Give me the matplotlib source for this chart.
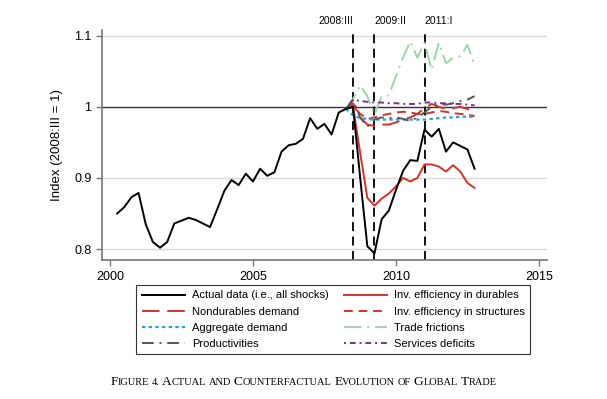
import numpy as np
import matplotlib
matplotlib.use("Agg")
import matplotlib.pyplot as plt
from matplotlib.offsetbox import TextArea, HPacker, AnchoredOffsetbox

plt.rcParams['font.family'] = ['Liberation Sans', 'DejaVu Sans']

# quarterly dates, 2000:II to 2012:IV
quarters = np.arange(2000.25, 2012.76, 0.25)
cf_quarters = quarters[32:]  # counterfactuals from 2008:II

actual = [0.850, 0.859, 0.873, 0.879, 0.835, 0.810, 0.802, 0.810, 0.836, 0.840,
          0.844, 0.841, 0.836, 0.831, 0.856, 0.882, 0.897, 0.890, 0.906, 0.895,
          0.913, 0.903, 0.908, 0.937, 0.946, 0.948, 0.955, 0.984, 0.969, 0.976,
          0.961, 0.992, 0.997, 1.000, 0.900, 0.804, 0.794, 0.842, 0.854, 0.883,
          0.910, 0.925, 0.924, 0.968, 0.958, 0.969, 0.937, 0.950, 0.945, 0.940,
          0.913]

durables = [0.997, 1.000, 0.935, 0.872, 0.861, 0.871, 0.878, 0.888, 0.900, 0.895,
            0.900, 0.919, 0.919, 0.916, 0.909, 0.918, 0.909, 0.893, 0.886]
nondurables = [0.997, 1.005, 0.985, 0.975, 0.973, 0.975, 0.975, 0.978, 0.982, 0.985,
               0.990, 0.998, 1.004, 1.000, 0.997, 0.998, 1.000, 0.997, 0.992]
structures = [0.997, 1.002, 0.990, 0.983, 0.985, 0.988, 0.990, 0.992, 0.993, 0.992,
              0.990, 0.990, 0.992, 0.994, 0.993, 0.991, 0.990, 0.989, 0.987]
aggregate = [0.997, 0.988, 0.984, 0.983, 0.982, 0.982, 0.982, 0.982, 0.982, 0.982,
             0.982, 0.982, 0.983, 0.984, 0.985, 0.985, 0.986, 0.986, 0.986]
frictions = [0.997, 1.011, 1.030, 1.015, 0.989, 1.015, 1.016, 1.043, 1.069, 1.092,
             1.069, 1.090, 1.052, 1.090, 1.061, 1.069, 1.071, 1.087, 1.059]
productivities = [0.997, 1.010, 0.985, 0.972, 0.982, 0.985, 0.984, 0.985, 0.983, 0.980,
                  0.985, 0.992, 1.000, 1.004, 1.003, 1.005, 1.008, 1.010, 1.015]
services = [0.997, 1.010, 1.008, 1.007, 1.006, 1.006, 1.005, 1.005, 1.004, 1.004,
            1.004, 1.006, 1.006, 1.005, 1.005, 1.004, 1.004, 1.003, 1.002]

events = [2008.5, 2009.25, 2011.0]
event_labels = ['2008:III', '2009:II', '2011:I']
event_align = ['right', 'left', 'left']

red = '#d7302c'

fig = plt.figure(figsize=(6.07, 3.99), dpi=100)
ax = fig.add_axes([0.168, 0.348, 0.733, 0.577])

# grid lines and the base line
for yv in [0.8, 0.9, 1.1]:
    ax.axhline(yv, color='#d9d9d9', lw=1.0, zorder=0)
ax.axhline(1.0, color='#333333', lw=1.0, zorder=1)

for xe, lab, ha in zip(events, event_labels, event_align):
    ax.axvline(xe, color='black', lw=1.3, dashes=(5, 3), zorder=2)
    ax.text(xe, 1.114, lab, ha=ha, va='bottom', fontsize=7.5, clip_on=False)

ax.plot(quarters, actual, color='black', lw=1.4, label='Actual data (i.e., all shocks)', zorder=5)
ax.plot(cf_quarters, durables, color=red, lw=1.4, label='Inv. efficiency in durables', zorder=4)
ax.plot(cf_quarters, nondurables, color=red, lw=1.4, dashes=(9, 4),
        label='Nondurables demand', zorder=4)
ax.plot(cf_quarters, structures, color=red, lw=1.4, dashes=(4.5, 3),
        label='Inv. efficiency in structures', zorder=4)
ax.plot(cf_quarters, aggregate, color='#2a9fdc', lw=1.6, dashes=(1.5, 1.5),
        label='Aggregate demand', zorder=4)
ax.plot(cf_quarters, frictions, color='#9fd3aa', lw=1.4, dashes=(9, 3, 1, 3),
        label='Trade frictions', zorder=3)
ax.plot(cf_quarters, productivities, color='#555555', lw=1.4, dashes=(6, 3, 1, 3),
        label='Productivities', zorder=4)
ax.plot(cf_quarters, services, color='#7b2f8e', lw=1.4, dashes=(1, 2, 3, 2),
        label='Services deficits', zorder=4)

ax.set_xlim(1999.72, 2015.28)
ax.set_ylim(0.7845, 1.108)
ax.set_xticks([2000, 2005, 2010, 2015])
ax.set_yticks([0.8, 0.9, 1.0, 1.1])
ax.set_yticklabels(['0.8', '0.9', '1', '1.1'])
ax.tick_params(labelsize=9, length=4, color='#777777', width=1)
ax.set_ylabel('Index (2008:III = 1)', fontsize=9.5, labelpad=8)
for s in ['top', 'right']:
    ax.spines[s].set_visible(False)
for s in ['left', 'bottom']:
    ax.spines[s].set_color('#777777')
    ax.spines[s].set_linewidth(1.2)

handles, labels = ax.get_legend_handles_labels()
# two columns: left = actual, nondurables, aggregate, productivities
left = [0, 2, 4, 6]
right = [1, 3, 5, 7]
h = [handles[i] for i in left + right]
l = [labels[i] for i in left + right]
leg = fig.legend(h, l, ncol=2, loc='upper center', bbox_to_anchor=(0.549, 0.3),
                 fontsize=8, frameon=True, fancybox=False, edgecolor='black',
                 handlelength=3.9, handletextpad=0.6, columnspacing=1.4,
                 labelspacing=0.55, borderpad=0.5)
leg.get_frame().set_linewidth(0.8)

# caption in small caps
serif = 'Liberation Serif'
parts = []
for word in 'Figure 4. Actual and Counterfactual Evolution of Global Trade'.split():
    if word[0].isupper():
        parts.append(TextArea(word[0], textprops=dict(fontsize=9.6, family=serif)))
        rest = word[1:].upper()
    else:
        rest = word.upper()
    if rest:
        parts.append(TextArea(rest, textprops=dict(fontsize=7.5, family=serif)))
    parts.append(TextArea(' ', textprops=dict(fontsize=7.5, family=serif)))
box = HPacker(children=parts[:-1], align='baseline', pad=0, sep=0)
cap = AnchoredOffsetbox(loc='center', child=box, frameon=False,
                        bbox_to_anchor=(0.5, 0.043), bbox_transform=fig.transFigure,
                        borderpad=0, pad=0)
fig.add_artist(cap)

fig.savefig('out.png', dpi=100)
